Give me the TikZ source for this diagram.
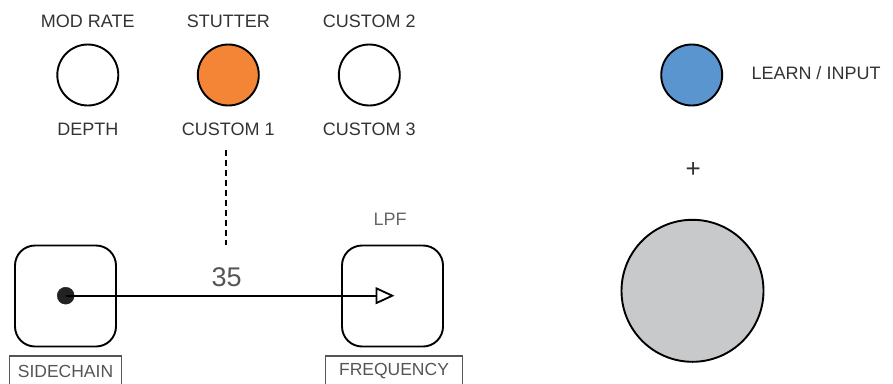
\documentclass[tikz,border=0pt]{standalone}
\usepackage{fontspec}
\setmainfont{Liberation Sans}
\usetikzlibrary{arrows.meta}
\definecolor{knoborange}{HTML}{F58536}
\definecolor{knobblue}{HTML}{5B95CF}
\definecolor{knobgray}{HTML}{C8C9CB}
\definecolor{txtdark}{HTML}{333333}
\definecolor{txtmid}{HTML}{555555}
\definecolor{txtlight}{HTML}{666666}
\definecolor{dotcol}{HTML}{222222}
\begin{document}
\begin{tikzpicture}[x=1pt,y=-1pt,
  lbl/.style={inner sep=0pt,font=\fontsize{18}{20}\selectfont,text=txtdark},
  lbllight/.style={lbl,text=txtlight},
  knob/.style={circle,draw=black,line width=1.9pt,minimum size=61pt,inner sep=0pt},
  padbox/.style={draw=black,line width=1.9pt,rounded corners=20pt,minimum width=101pt,minimum height=101pt,inner sep=0pt},
  tagbox/.style={draw=txtmid,line width=1.2pt},
  tagtxt/.style={inner sep=0pt,font=\fontsize{17.5}{20}\selectfont,text=txtmid},
  conn/.style={line width=1.9pt,-{Triangle[open,length=19pt,width=17pt,line width=1.8pt]}},
  dashconn/.style={line width=1.9pt,dash pattern=on 6pt off 4pt}
]
\useasboundingbox (0,0) rectangle (893,383);
% top labels
\node[lbl] (lmod) at (87.8,21.7) {MOD RATE};
\node[lbl] (lstu) at (228.3,21.7) {STUTTER};
\node[lbl] (lcu2) at (369.3,21.7) {CUSTOM 2};
% knobs
\node[knob,fill=white] (k1) at (87.8,75) {};
\node[knob,fill=knoborange] (k2) at (228.3,75) {};
\node[knob,fill=white] (k3) at (369.3,75) {};
% bottom labels
\node[lbl] (ldep) at (87.8,129.3) {DEPTH};
\node[lbl] (lcu1) at (228.3,129.3) {CUSTOM 1};
\node[lbl] (lcu3) at (369.3,129.3) {CUSTOM 3};
% dashed
\coordinate (dtop) at (226,150);
\coordinate (dbot) at (226,245);
\draw[dashconn] (dtop) -- (dbot);
% pads
\node[padbox] (p1) at (65.5,296) {};
\node[padbox] (p2) at (392.5,296) {};
\node[lbllight] (llpf) at (390,219) {LPF};
\coordinate (tip) at (394.5,295.7);
\node[circle,fill=dotcol,draw=dotcol,minimum size=17pt,inner sep=0pt] (dot) at (65.7,295.7) {};
\draw[conn] (dot.center) -- (tip);
\node[inner sep=0pt,font=\fontsize{27}{30}\selectfont,text=txtmid] (val) at (226.7,276.7) {35};
% tags
\draw[tagbox] (9.3,390) |- (121.7,356) -- (121.7,390);
\node[tagtxt] (tsc) at (65.5,371) {SIDECHAIN};
\draw[tagbox] (325.7,390) |- (462.7,356) -- (462.7,390);
\node[tagtxt] (tfr) at (394,371.5) {FREQUENCY};
% right side
\node[knob,fill=knobblue] (kb) at (691.7,75) {};
\node[lbl] (llearn) at (816,73.3) {LEARN / INPUT};
\node[lbl,font=\fontsize{26}{28}\selectfont] (plus) at (693.3,170) {+};
\node[knob,fill=knobgray,minimum size=142pt] (big) at (692.5,290.8) {};
\end{tikzpicture}
\end{document}
